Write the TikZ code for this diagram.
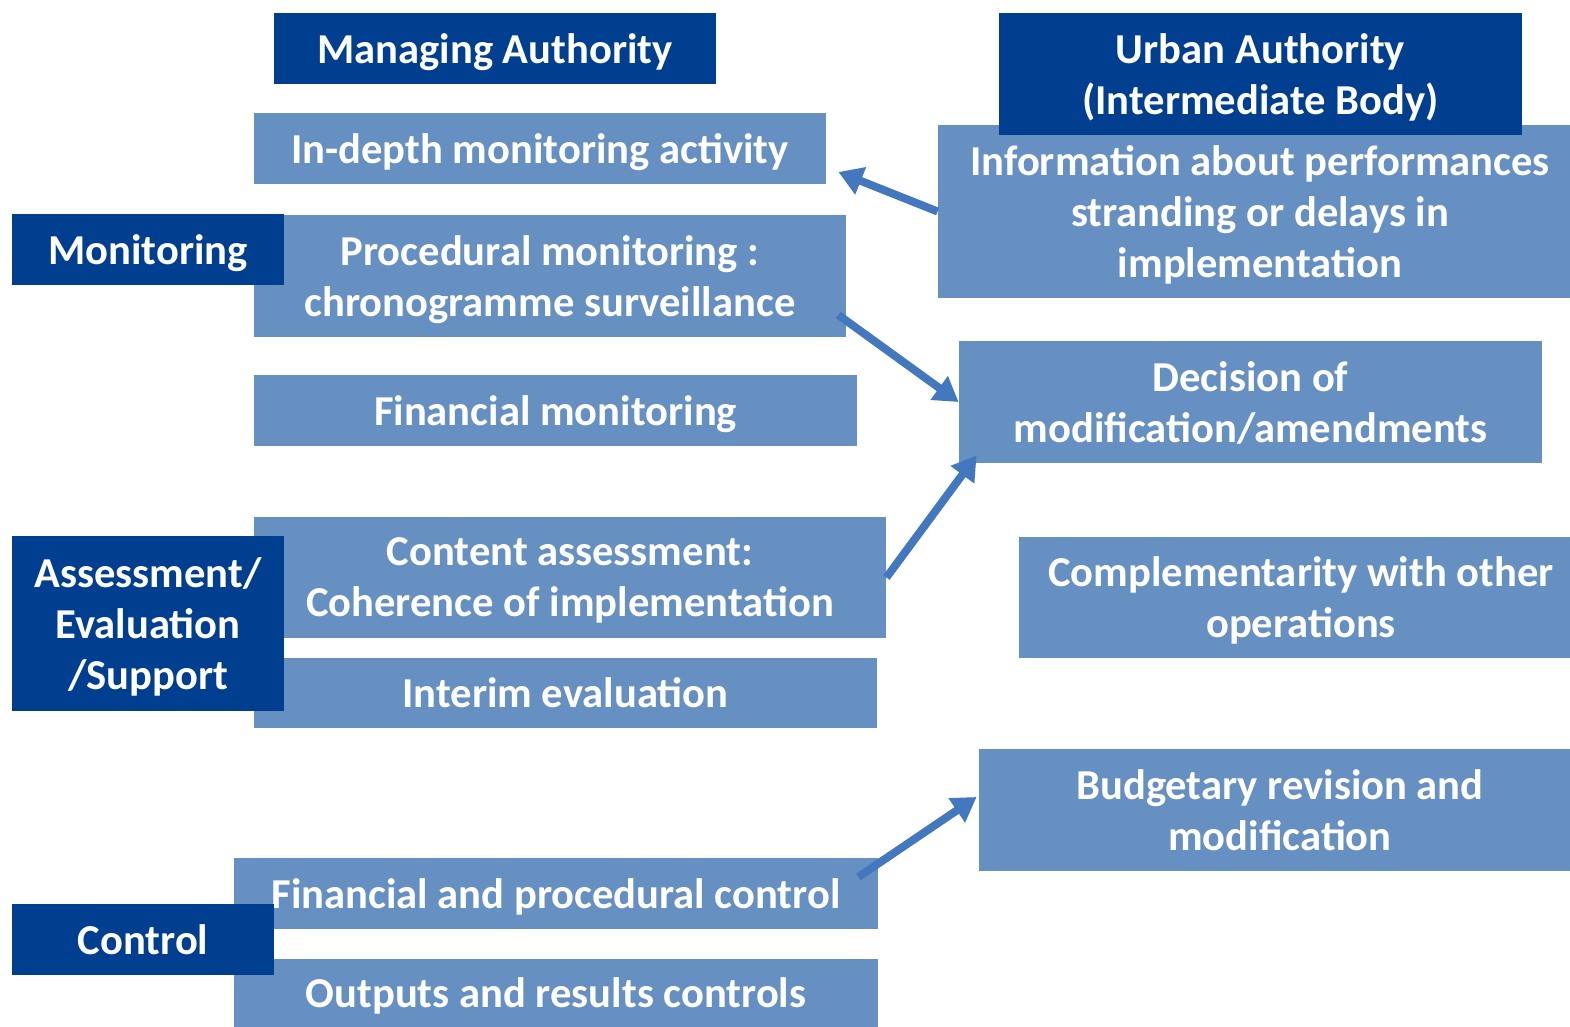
\documentclass[tikz,border=0pt]{standalone}
\usepackage{fontspec}
\setmainfont{Carlito}
\usetikzlibrary{arrows.meta, calc}

\definecolor{darkblue}{RGB}{0,63,143}
\definecolor{lightblue}{RGB}{102,143,194}
\definecolor{arrowblue}{RGB}{68,120,190}

\tikzset{
  box/.style={rectangle, inner sep=0pt, align=center, text=white, text depth=0pt,
    font=\fontsize{21.3}{25.5}\selectfont\bfseries},
  lbox/.style={box, fill=lightblue},
  dbox/.style={box, fill=darkblue},
  link/.style={draw=arrowblue, line width=4pt, -{Triangle[length=12pt,width=14pt]}}
}

\begin{document}
\begin{tikzpicture}[x=0.5pt, y=-0.5pt]
        \useasboundingbox[fill=white] (0,0) rectangle (1570,1027);
        \clip (0,0) rectangle (1570,1027);

        % managing authority side
        \node[lbox, minimum width=286pt, minimum height=35.5pt] (depth) at (540,148.5) {In-depth monitoring activity};
        \node[lbox, minimum width=296pt, minimum height=61pt] (proc) at (550,276) {Procedural monitoring :\\chronogramme surveillance};
        \node[lbox, minimum width=301.5pt, minimum height=35.5pt] (fin) at (555.5,410.5) {Financial monitoring};
        \node[lbox, minimum width=316pt, minimum height=60.5pt] (cont) at (570,577.5) {Content assessment:\\Coherence of implementation};
        \node[lbox, minimum width=311.5pt, minimum height=35pt] (interim) at (565.5,693) {Interim evaluation};
        \node[lbox, minimum width=322pt, minimum height=35.5pt] (fpc) at (556,893.5) {Financial and procedural control};
        \node[lbox, minimum width=322pt, minimum height=34pt] (out) at (556,993) {Outputs and results controls};

        % urban authority side
        \node[lbox, minimum width=322pt, minimum height=86.5pt] (info) at (1260,211.5) {Information about performances\\stranding or delays in\\implementation};
        \node[lbox, minimum width=291.5pt, minimum height=61pt] (dec) at (1250.5,402) {Decision of\\modification/amendments};
        \node[lbox, minimum width=282pt, minimum height=60.5pt] (comp) at (1301,597.5) {Complementarity with other\\operations};
        \node[lbox, minimum width=301pt, minimum height=61pt] (bud) at (1280,810) {Budgetary revision and\\modification};

        % headers
        \node[dbox, minimum width=221pt, minimum height=35.5pt] (ma) at (495,48.5) {Managing Authority};
        \node[dbox, minimum width=261.5pt, minimum height=61pt] (ua) at (1260.5,74) {Urban Authority\\(Intermediate Body)};
        \node[dbox, minimum width=136pt, minimum height=35.5pt] (mon) at (148,249.5) {Monitoring};
        \node[dbox, minimum width=136pt, minimum height=87.5pt] (aes) at (148,623.5) {Assessment/\\Evaluation\\/Support};
        \node[dbox, minimum width=131pt, minimum height=35.5pt] (ctrl) at (143,939.5) {Control};

        \draw[link] (info.west) -- ($(depth.east)+(12,23.5)$);
        \draw[link] ($(proc.east)+(-8,39)$) -- (dec.west);
        \draw[link] (cont.east) -- ($(dec.south west)+(18,-8)$);
        \draw[link] ($(fpc.east)+(-20,-16.5)$) -- ($(bud.west)+(-2,-13)$);

\end{tikzpicture}
\end{document}
